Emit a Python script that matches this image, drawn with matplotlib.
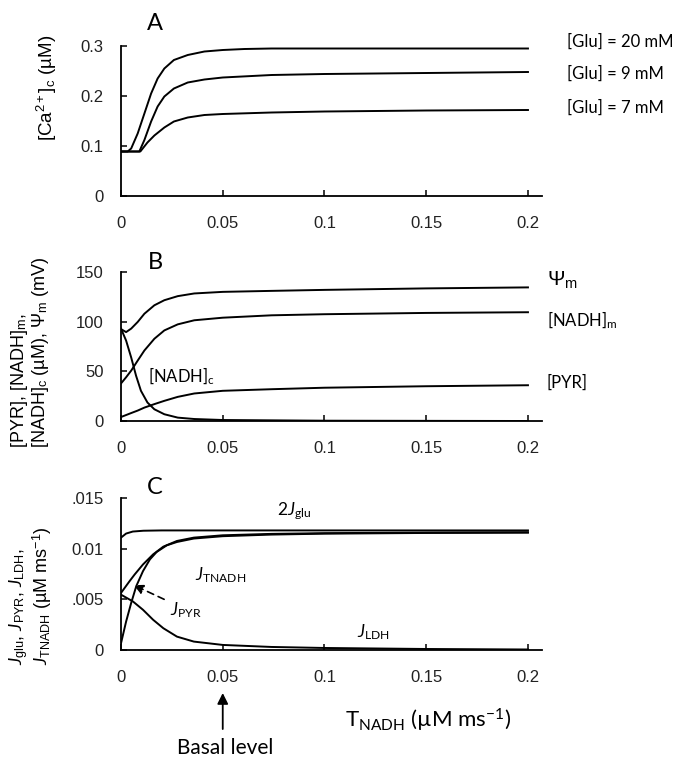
import matplotlib
matplotlib.use("Agg")
import matplotlib.pyplot as plt
from matplotlib.ticker import FixedLocator, FixedFormatter
import matplotlib.transforms as mtrans

plt.rcParams['mathtext.fontset'] = 'custom'
plt.rcParams['mathtext.rm'] = 'Lato'
plt.rcParams['mathtext.it'] = 'Lato:italic'
plt.rcParams['mathtext.bf'] = 'Lato:bold'

# ---------------- data ----------------
# Panel A: [Ca2+]c vs T_NADH for three glucose levels
xA_glu20 = [0, 0.0033, 0.005, 0.0082, 0.0115, 0.0148, 0.018, 0.0213, 0.026, 0.0328, 0.041, 0.05, 0.0607, 0.074, 0.1, 0.15, 0.2]
ca_glu20 = [0.089, 0.089, 0.095, 0.125, 0.165, 0.205, 0.235, 0.255, 0.272, 0.282, 0.289, 0.292, 0.294, 0.295, 0.295, 0.295, 0.295]
xA_glu9 = [0, 0.009, 0.0115, 0.0148, 0.018, 0.0213, 0.026, 0.0328, 0.041, 0.05, 0.074, 0.1, 0.15, 0.2]
ca_glu9 = [0.089, 0.089, 0.112, 0.149, 0.179, 0.199, 0.215, 0.227, 0.233, 0.237, 0.242, 0.244, 0.246, 0.248]
xA_glu7 = [0, 0.0095, 0.013, 0.0164, 0.0213, 0.026, 0.0328, 0.041, 0.05, 0.074, 0.1, 0.15, 0.2]
ca_glu7 = [0.089, 0.089, 0.107, 0.121, 0.137, 0.149, 0.157, 0.162, 0.164, 0.167, 0.169, 0.171, 0.172]
glu_labels = ["[Glu] = 20 mM", "[Glu] = 9 mM", "[Glu] = 7 mM"]

# Panel B
xB = [0, 0.0025, 0.005, 0.0082, 0.0115, 0.0164, 0.0213, 0.0279, 0.036, 0.05, 0.074, 0.1, 0.15, 0.2]
psi_m = [92.5, 89.5, 93, 99.7, 108, 116.5, 121.6, 125.7, 128.4, 130, 131, 132, 133.5, 134.5]
nadh_m = [37.8, 44, 50.7, 60.8, 71, 82.8, 91.2, 97.3, 101.4, 104, 106.4, 107.5, 108.8, 109.5]
pyr = [4, 6, 8, 10.5, 13.5, 17, 20.3, 24.3, 27.7, 30.4, 32, 33.5, 35, 36]
xB_nadhc = [0, 0.0025, 0.005, 0.0074, 0.0098, 0.013, 0.0164, 0.0213, 0.0279, 0.036, 0.05, 0.1, 0.2]
nadh_c = [93, 81, 64, 45.6, 30.4, 18.6, 11.8, 6.8, 3.4, 2, 1, 0.3, 0]

# Panel C
xC_glu = [0, 0.0025, 0.0058, 0.011, 0.02, 0.05, 0.1, 0.2]
j_glu2 = [0.01109, 0.01149, 0.01169, 0.01177, 0.0118, 0.0118, 0.0118, 0.0118]
xC_pyr = [0, 0.0042, 0.0067, 0.0108, 0.0158, 0.0208, 0.0275, 0.0358, 0.05, 0.074, 0.1, 0.15, 0.2]
j_pyr = [0.00563, 0.00679, 0.00745, 0.00844, 0.00944, 0.0102, 0.01076, 0.01109, 0.01132, 0.01146, 0.01153, 0.01159, 0.01162]
xC_tnadh = [0, 0.0025, 0.005, 0.0075, 0.0108, 0.0142, 0.0175, 0.0225, 0.0275, 0.0358, 0.05, 0.074, 0.1, 0.15, 0.2]
j_tnadh = [0.00066, 0.0028, 0.00464, 0.0063, 0.00778, 0.00894, 0.00967, 0.01033, 0.01066, 0.011, 0.01123, 0.01139, 0.01148, 0.01155, 0.01158]
xC_ldh = [0, 0.0058, 0.0108, 0.0158, 0.0208, 0.0275, 0.0358, 0.05, 0.074, 0.1, 0.15, 0.2]
j_ldh = [0.00546, 0.0048, 0.00397, 0.00298, 0.00215, 0.00132, 0.00083, 0.0005, 0.0003, 0.0002, 0.0001, 0.00005]

x_ticks = [0, 0.05, 0.1, 0.15, 0.2]
x_ticklabels = ["0", "0.05", "0.1", "0.15", "0.2"]
yA_ticks = [0, 0.1, 0.2, 0.3]
yA_ticklabels = ["0", "0.1", "0.2", "0.3"]
yB_ticks = [0, 50, 100, 150]
yB_ticklabels = ["0", "50", "100", "150"]
yC_ticks = [0, 0.005, 0.01, 0.015]
yC_ticklabels = ["0", ".005", "0.01", ".015"]

# ---------------- figure ----------------
W, H = 685, 762
fig = plt.figure(figsize=(W / 100, H / 100), dpi=100)

def px_axes(x0, x1, ybot, ytop):
    return fig.add_axes([x0 / W, 1 - ybot / H, (x1 - x0) / W, (ybot - ytop) / H])

axA = px_axes(121, 542, 196, 46)
axB = px_axes(121, 542, 421, 272)
axC = px_axes(121, 542, 650, 498)

AR = "Liberation Sans"
CAL = "Lato"
LW = 1.4

def style(ax, yt, ytl, ylim):
    ax.set_xlim(0, 0.2069)
    ax.set_ylim(*ylim)
    for s in ("top", "right"):
        ax.spines[s].set_visible(False)
    for s in ("left", "bottom"):
        ax.spines[s].set_linewidth(1.3)
    ax.xaxis.set_major_locator(FixedLocator(x_ticks))
    ax.xaxis.set_major_formatter(FixedFormatter(x_ticklabels))
    ax.yaxis.set_major_locator(FixedLocator(yt))
    ax.yaxis.set_major_formatter(FixedFormatter(ytl))
    ax.tick_params(axis="x", direction="in", length=4, width=1.1, pad=14.5, labelsize=12)
    ax.tick_params(axis="y", direction="in", length=4, width=1.1, pad=12.5, labelsize=12)
    for lab in ax.get_xticklabels() + ax.get_yticklabels():
        lab.set_fontfamily(AR)
        lab.set_color("#222222")

# Panel A
style(axA, yA_ticks, yA_ticklabels, (0, 0.3))
axA.plot(xA_glu20, ca_glu20, color="black", lw=LW)
axA.plot(xA_glu9, ca_glu9, color="black", lw=LW)
axA.plot(xA_glu7, ca_glu7, color="black", lw=LW)
for lab, yy in zip(glu_labels, [0.3086, 0.245, 0.176]):
    axA.text(0.219, yy, lab, family=CAL, fontsize=12, va="center", ha="left", clip_on=False)
axA.text(0.0167, 1.153, "A", transform=mtrans.blended_transform_factory(axA.transData, axA.transAxes),
         family=CAL, fontsize=17, ha="center", va="center")
axA.text(-0.175, 0.72, "[Ca$^{\\mathdefault{2+}}$]$_{\\mathdefault{c}}$ (\u00b5M)", transform=axA.transAxes,
         rotation=90, family=AR, fontsize=13.5, ha="center", va="center")

# Panel B
style(axB, yB_ticks, yB_ticklabels, (0, 150))
axB.plot(xB, psi_m, color="black", lw=LW)
axB.plot(xB, nadh_m, color="black", lw=LW)
axB.plot(xB, pyr, color="black", lw=LW)
axB.plot(xB_nadhc, nadh_c, color="black", lw=LW)
axB.text(0.2093, 142, "\u03a8$_{\\mathdefault{m}}$", family=AR, fontsize=15, va="center", ha="left", clip_on=False)
axB.text(0.2093, 101.7, "[NADH]$_{\\mathdefault{m}}$", family=CAL, fontsize=12, va="center", ha="left", clip_on=False)
axB.text(0.2093, 38.3, "[PYR]", family=CAL, fontsize=12, va="center", ha="left", clip_on=False)
axB.text(0.0133, 45.3, "[NADH]$_{\\mathdefault{c}}$", family=CAL, fontsize=12, va="center", ha="left")
axB.text(0.0167, 1.067, "B", transform=mtrans.blended_transform_factory(axB.transData, axB.transAxes),
         family=CAL, fontsize=17, ha="center", va="center")
axB.text(-0.215, -0.18,
         "[PYR], [NADH]$_{\\mathdefault{m}}$,\n[NADH]$_{\\mathdefault{c}}$ (\u00b5M), \u03a8$_{\\mathdefault{m}}$ (mV)",
         transform=axB.transAxes, rotation=90, family=AR, fontsize=13, ha="center", va="bottom",
         multialignment="left", linespacing=1.0)

# Panel C
style(axC, yC_ticks, yC_ticklabels, (0, 0.015))
axC.plot(xC_glu, j_glu2, color="black", lw=LW)
axC.plot(xC_pyr, j_pyr, color="black", lw=LW)
axC.plot(xC_tnadh, j_tnadh, color="black", lw=LW)
axC.plot(xC_ldh, j_ldh, color="black", lw=LW)
axC.text(0.0765, 0.01372, "2$\\mathit{J}_{\\mathdefault{glu}}$", family=CAL, fontsize=12.5, va="center", ha="left")
axC.text(0.0364, 0.0074, "$\\mathit{J}_{\\mathdefault{TNADH}}$", family=CAL, fontsize=12.5, va="center", ha="left")
axC.text(0.116, 0.00178, "$\\mathit{J}_{\\mathdefault{LDH}}$", family=CAL, fontsize=12.5, va="center", ha="left")
axC.text(0.0241, 0.00395, "$\\mathit{J}_{\\mathdefault{PYR}}$", family=CAL, fontsize=12.5, va="center", ha="left")
axC.annotate("", xy=(0.0063, 0.0064), xytext=(0.0212, 0.0050),
             arrowprops=dict(arrowstyle="-|>", linestyle=(0, (4, 3)), color="black", lw=1.2,
                             mutation_scale=14, shrinkA=0, shrinkB=0))
axC.text(0.0167, 1.072, "C", transform=mtrans.blended_transform_factory(axC.transData, axC.transAxes),
         family=CAL, fontsize=17, ha="center", va="center")
axC.text(-0.215, -0.1,
         "$\\mathit{J}_{\\mathdefault{glu}}$, $\\mathit{J}_{\\mathdefault{PYR}}$, $\\mathit{J}_{\\mathdefault{LDH}}$,\n"
         "$\\mathit{J}_{\\mathdefault{TNADH}}$ (\u00b5M ms$^{\\mathdefault{-1}}$)",
         transform=axC.transAxes, rotation=90, family=AR, fontsize=13, ha="center", va="bottom",
         multialignment="left", linespacing=1.0)

blendC = mtrans.blended_transform_factory(axC.transData, axC.transAxes)
axC.annotate("", xy=(0.05, -0.283), xytext=(0.05, -0.52), xycoords=blendC, textcoords=blendC,
             arrowprops=dict(arrowstyle="-|>", color="black", lw=1.3, mutation_scale=16,
                             shrinkA=0, shrinkB=0), annotation_clip=False)
axC.text(0.051, -0.645, "Basal level", transform=blendC, family=CAL, fontsize=15, ha="center", va="center")
axC.text(0.151, -0.46, "T$_{\\mathdefault{NADH}}$ (\u00b5M ms$^{\\mathdefault{-1}}$)", transform=blendC,
         family=CAL, fontsize=16, ha="center", va="center")

fig.savefig("out.png", dpi=100)
